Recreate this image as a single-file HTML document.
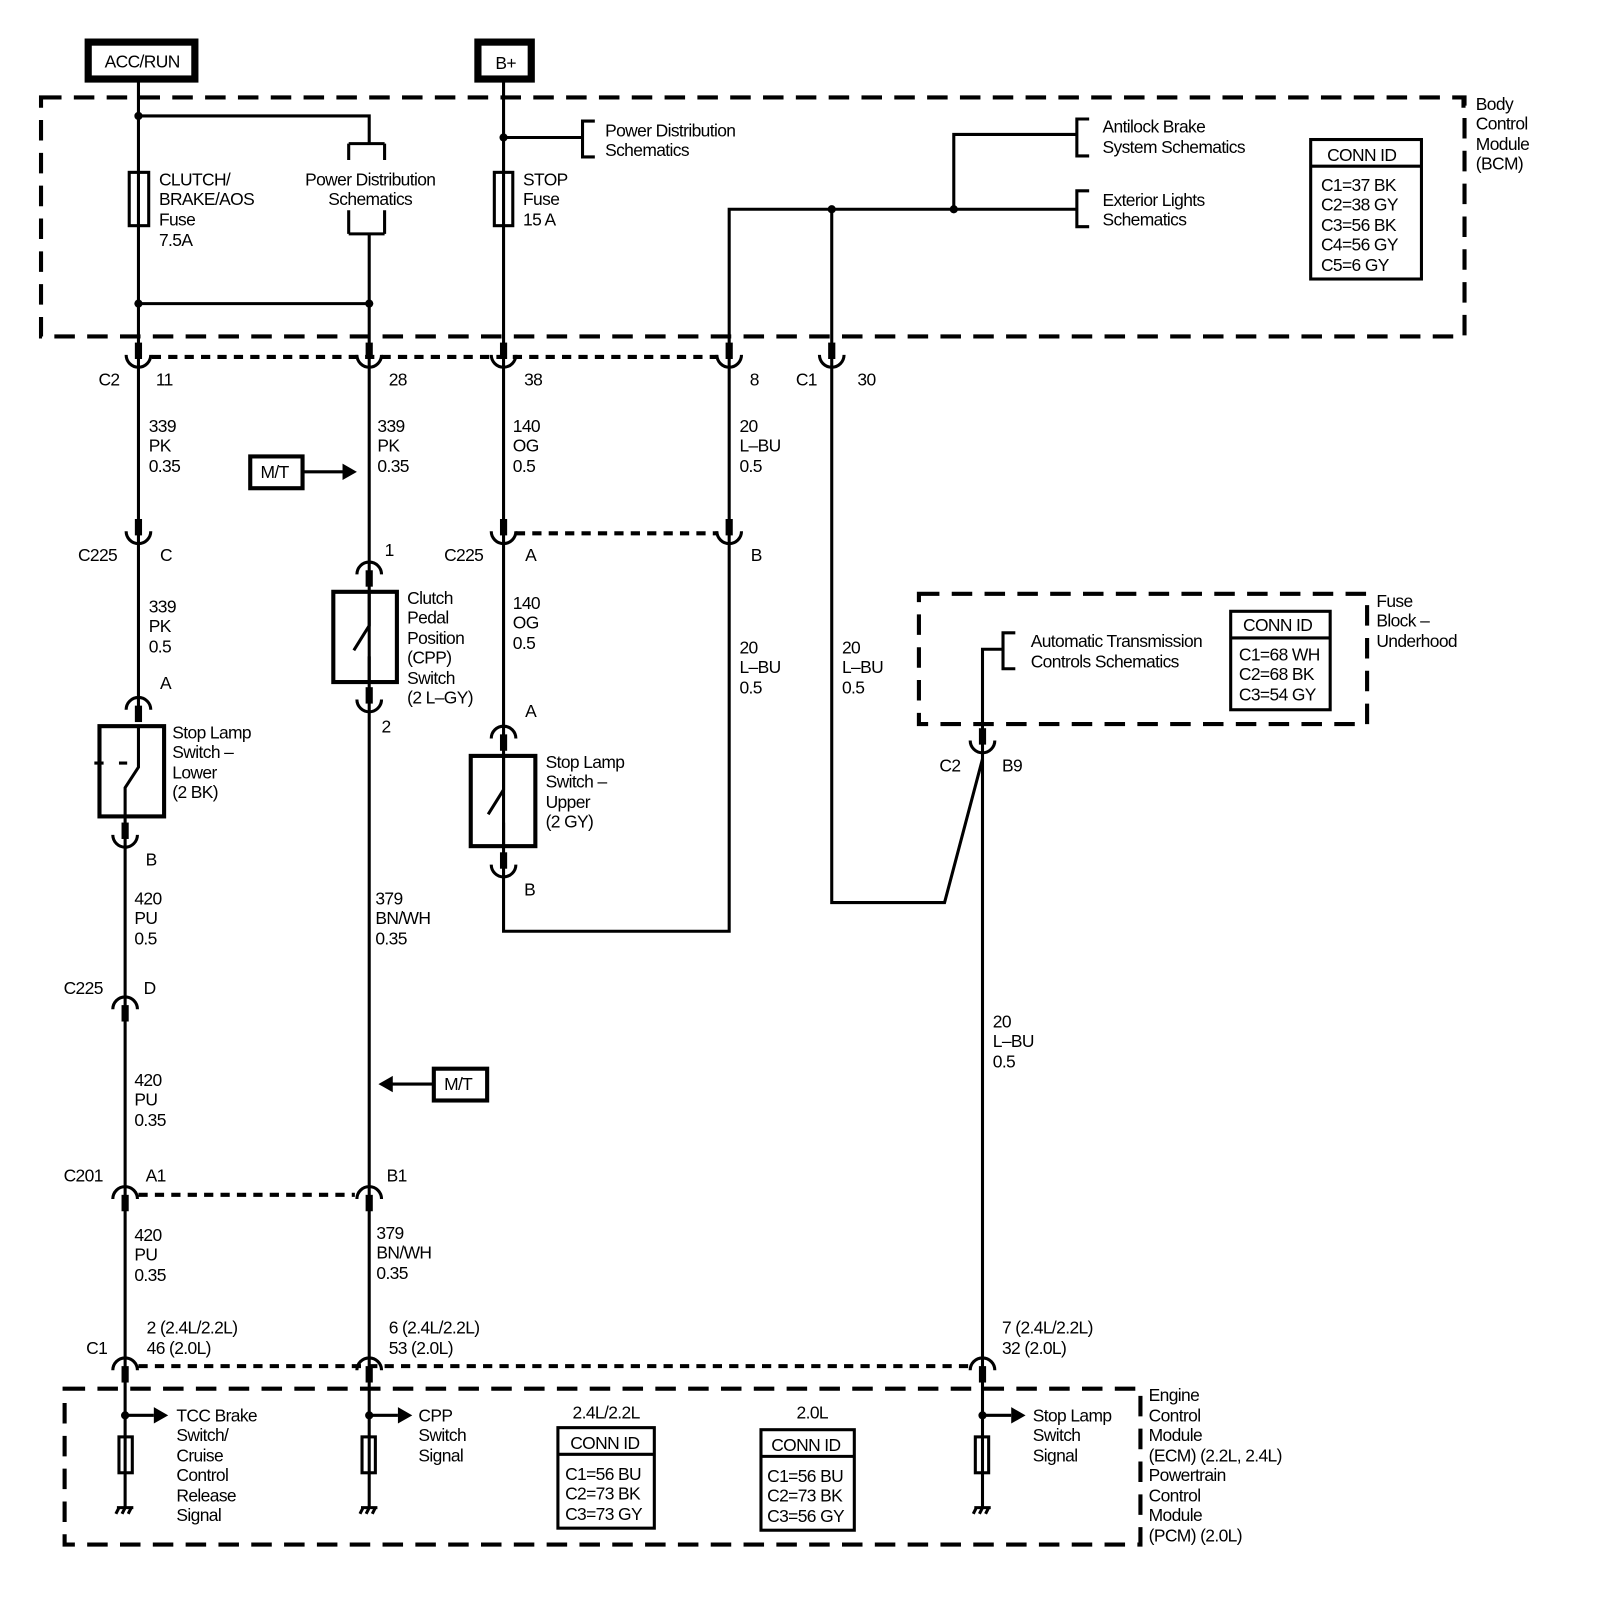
<!DOCTYPE html>
<html><head><style>
html,body{margin:0;padding:0;background:#fff;}
svg{display:block;}
text{font-family:"Liberation Sans",sans-serif;font-size:17px;fill:#000;letter-spacing:-0.6px;}
</style></head><body>
<svg width="1604" height="1600" viewBox="0 0 1564 1560" xmlns="http://www.w3.org/2000/svg">
<defs>
<g id="cf"><rect x="-3.5" y="-24" width="7" height="16"/><path d="M-12 -12 A12 12 0 0 0 12 -12" fill="none" stroke="#000" stroke-width="3"/></g>
<g id="cm"><rect x="-3.5" y="8" width="7" height="16"/><path d="M-12 12 A12 12 0 0 1 12 12" fill="none" stroke="#000" stroke-width="3"/></g>
<g id="gnd"><path d="M-8 0 H8 M-6 0 L-9 6 M0 0 L-3 6 M6 0 L3 6" stroke="#000" stroke-width="3" fill="none"/></g>
</defs>
<g fill="none" stroke="#000" stroke-width="3">
<!-- power boxes -->
<rect x="86" y="41" width="104" height="36" stroke-width="7"/>
<rect x="466" y="41" width="52" height="36" stroke-width="7"/>
<!-- BCM dashed -->
<rect x="40" y="95" width="1388" height="233" stroke-width="4" stroke-dasharray="20 12"/>
<!-- Fuse block dashed -->
<rect x="896" y="579" width="437" height="127" stroke-width="4" stroke-dasharray="20 12"/>
<!-- ECM dashed -->
<rect x="63" y="1354" width="1049" height="152" stroke-width="4" stroke-dasharray="20 12"/>
<!-- dotted connector links -->
<path d="M148 348 H700 M503 520 H700 M135 1165 H346 M135 1332 H946" stroke-dasharray="9 7" stroke-width="4"/>
<!-- wires -->
<path d="M135 80 V520 M135 520 V690 M122 796 V1340 M122 1340 V1470"/>
<path d="M135 113 H360 V140 M340 140 H375 M340 140 V156 M375 140 V156 M340 228 V205 M375 228 V205 M340 228 H375 M360 228 V560"/>
<path d="M135 296 H360"/>
<path d="M360 560 V1470"/>
<path d="M491 80 V908 H711 V204 H930 M811 204 V880 H921 L958 740"/>
<path d="M491 134 H568 M580 118 H568 V153 H580"/>
<path d="M930 204 V131 H1050 M1062 116 H1050 V152 H1062 M930 204 H1050 M1062 186 H1050 V221 H1062"/>
<path d="M958 706 V633 H978 M990 617 H978 V652 H990 M958 706 V1470"/>
<!-- fuses -->
<rect x="126" y="168" width="19" height="52"/>
<rect x="482" y="168" width="18" height="52"/>
<!-- CONN ID boxes -->
<rect x="1278" y="136" width="108" height="136"/><path d="M1278 162 H1386"/>
<rect x="1200" y="596" width="97" height="96"/><path d="M1200 622 H1297"/>
<rect x="544" y="1392" width="94" height="98"/><path d="M544 1418 H638"/>
<rect x="742" y="1394" width="91" height="98"/><path d="M742 1420 H833"/>
<!-- switches -->
<rect x="97" y="708" width="63" height="88" stroke-width="4"/>
<path d="M135 708 V748 L122 768 V796 M92 744 H101 M116 744 H124"/>
<rect x="325" y="577" width="62" height="88" stroke-width="4"/>
<path d="M360 577 V610 L345 634 M360 640 V665"/>
<rect x="459" y="737" width="63" height="88" stroke-width="4"/>
<path d="M491 737 V770 L476 794 M491 802 V825"/>
<!-- M/T -->
<rect x="244" y="445" width="51" height="31" stroke-width="4"/>
<path d="M295 460 H335"/>
<rect x="423" y="1042" width="52" height="31" stroke-width="4"/>
<path d="M423 1057 H382"/>
<!-- ECM inner -->
<path d="M122 1380 H150 M360 1380 H388 M958 1380 H986"/>
<rect x="116" y="1401" width="13" height="35"/>
<rect x="353" y="1401" width="13" height="35"/>
<rect x="951" y="1401" width="13" height="35"/>
</g>
<g fill="#000">
<path d="M348 460 L334 452 V468Z"/>
<path d="M369 1057 L383 1049 V1065Z"/>
<path d="M164 1380 L150 1372 V1388Z M402 1380 L388 1372 V1388Z M1000 1380 L986 1372 V1388Z"/>
<circle cx="135" cy="113" r="4"/><circle cx="135" cy="296" r="4"/><circle cx="360" cy="296" r="4"/>
<circle cx="491" cy="134" r="4"/><circle cx="811" cy="204" r="4"/><circle cx="930" cy="204" r="4"/>
<circle cx="122" cy="1380" r="4"/><circle cx="360" cy="1380" r="4"/><circle cx="958" cy="1380" r="4"/>
<rect x="1425" y="95" width="4" height="10"/>
<use href="#cf" x="135" y="358"/><use href="#cf" x="360" y="358"/><use href="#cf" x="491" y="358"/><use href="#cf" x="711" y="358"/><use href="#cf" x="811" y="358"/>
<use href="#cf" x="135" y="530"/><use href="#cf" x="491" y="530"/><use href="#cf" x="711" y="530"/>
<use href="#cm" x="360" y="548"/><use href="#cf" x="360" y="694"/>
<use href="#cm" x="135" y="680"/><use href="#cf" x="122" y="826"/>
<use href="#cm" x="491" y="708"/><use href="#cf" x="491" y="855"/>
<use href="#cm" x="122" y="972"/>
<use href="#cf" x="958" y="734"/>
<use href="#cm" x="122" y="1157"/><use href="#cm" x="360" y="1157"/>
<use href="#cm" x="122" y="1324"/><use href="#cm" x="360" y="1324"/><use href="#cm" x="958" y="1324"/>
<use href="#gnd" x="122" y="1470"/><use href="#gnd" x="360" y="1470"/><use href="#gnd" x="958" y="1470"/>
</g>
<text x="102" y="66">ACC/RUN</text>
<text x="483" y="67" font-size="16">B+</text>
<text x="155" y="181">CLUTCH/</text><text x="155" y="200">BRAKE/AOS</text><text x="155" y="220">Fuse</text><text x="155" y="240">7.5A</text>
<text x="361" y="181" text-anchor="middle">Power Distribution</text><text x="361" y="200" text-anchor="middle">Schematics</text>
<text x="510" y="181">STOP</text><text x="510" y="200">Fuse</text><text x="510" y="220">15 A</text>
<text x="590" y="133">Power Distribution</text><text x="590" y="152">Schematics</text>
<text x="1075" y="129">Antilock Brake</text><text x="1075" y="149">System Schematics</text>
<text x="1075" y="201">Exterior Lights</text><text x="1075" y="220">Schematics</text>
<text x="1294" y="157">CONN ID</text>
<text x="1288" y="186">C1=37 BK</text><text x="1288" y="205">C2=38 GY</text><text x="1288" y="225">C3=56 BK</text><text x="1288" y="244">C4=56 GY</text><text x="1288" y="264">C5=6 GY</text>
<text x="1439" y="107">Body</text><text x="1439" y="126">Control</text><text x="1439" y="146">Module</text><text x="1439" y="165">(BCM)</text>
<text x="96" y="376">C2</text><text x="152" y="376">11</text><text x="379" y="376">28</text><text x="511" y="376">38</text><text x="731" y="376">8</text><text x="776" y="376">C1</text><text x="836" y="376">30</text>
<text x="145" y="421">339</text><text x="145" y="440">PK</text><text x="145" y="460">0.35</text>
<text x="368" y="421">339</text><text x="368" y="440">PK</text><text x="368" y="460">0.35</text>
<text x="500" y="421">140</text><text x="500" y="440">OG</text><text x="500" y="460">0.5</text>
<text x="721" y="421">20</text><text x="721" y="440">L–BU</text><text x="721" y="460">0.5</text>
<text x="254" y="466">M/T</text>
<text x="76" y="547">C225</text><text x="156" y="547">C</text>
<text x="433" y="547">C225</text><text x="512" y="547">A</text><text x="732" y="547">B</text>
<text x="375" y="542">1</text>
<text x="145" y="597">339</text><text x="145" y="616">PK</text><text x="145" y="636">0.5</text>
<text x="500" y="594">140</text><text x="500" y="613">OG</text><text x="500" y="633">0.5</text>
<text x="721" y="637">20</text><text x="721" y="656">L–BU</text><text x="721" y="676">0.5</text>
<text x="821" y="637">20</text><text x="821" y="656">L–BU</text><text x="821" y="676">0.5</text>
<text x="397" y="589">Clutch</text><text x="397" y="608">Pedal</text><text x="397" y="628">Position</text><text x="397" y="647">(CPP)</text><text x="397" y="667">Switch</text><text x="397" y="686">(2 L–GY)</text>
<text x="156" y="672">A</text><text x="372" y="714">2</text>
<text x="168" y="720">Stop Lamp</text><text x="168" y="739">Switch –</text><text x="168" y="759">Lower</text><text x="168" y="778">(2 BK)</text>
<text x="512" y="699">A</text>
<text x="532" y="749">Stop Lamp</text><text x="532" y="768">Switch –</text><text x="532" y="788">Upper</text><text x="532" y="807">(2 GY)</text>
<text x="1342" y="592">Fuse</text><text x="1342" y="611">Block –</text><text x="1342" y="631">Underhood</text>
<text x="1005" y="631">Automatic Transmission</text><text x="1005" y="651">Controls Schematics</text>
<text x="1212" y="615">CONN ID</text>
<text x="1208" y="644">C1=68 WH</text><text x="1208" y="663">C2=68 BK</text><text x="1208" y="683">C3=54 GY</text>
<text x="916" y="752">C2</text><text x="977" y="752">B9</text>
<text x="142" y="844">B</text><text x="511" y="873">B</text>
<text x="131" y="882">420</text><text x="131" y="901">PU</text><text x="131" y="921">0.5</text>
<text x="366" y="882">379</text><text x="366" y="901">BN/WH</text><text x="366" y="921">0.35</text>
<text x="62" y="969">C225</text><text x="140" y="969">D</text>
<text x="968" y="1002">20</text><text x="968" y="1021">L–BU</text><text x="968" y="1041">0.5</text>
<text x="131" y="1059">420</text><text x="131" y="1078">PU</text><text x="131" y="1098">0.35</text>
<text x="433" y="1063">M/T</text>
<text x="62" y="1152">C201</text><text x="142" y="1152">A1</text><text x="377" y="1152">B1</text>
<text x="131" y="1210">420</text><text x="131" y="1229">PU</text><text x="131" y="1249">0.35</text>
<text x="367" y="1208">379</text><text x="367" y="1227">BN/WH</text><text x="367" y="1247">0.35</text>
<text x="143" y="1300">2 (2.4L/2.2L)</text><text x="143" y="1320">46 (2.0L)</text>
<text x="379" y="1300">6 (2.4L/2.2L)</text><text x="379" y="1320">53 (2.0L)</text>
<text x="977" y="1300">7 (2.4L/2.2L)</text><text x="977" y="1320">32 (2.0L)</text>
<text x="84" y="1320">C1</text>
<text x="172" y="1386">TCC Brake</text><text x="172" y="1405">Switch/</text><text x="172" y="1425">Cruise</text><text x="172" y="1444">Control</text><text x="172" y="1464">Release</text><text x="172" y="1483">Signal</text>
<text x="408" y="1386">CPP</text><text x="408" y="1405">Switch</text><text x="408" y="1425">Signal</text>
<text x="591" y="1383" text-anchor="middle">2.4L/2.2L</text>
<text x="792" y="1383" text-anchor="middle">2.0L</text>
<text x="556" y="1413">CONN ID</text>
<text x="551" y="1443">C1=56 BU</text><text x="551" y="1462">C2=73 BK</text><text x="551" y="1482">C3=73 GY</text>
<text x="752" y="1415">CONN ID</text>
<text x="748" y="1445">C1=56 BU</text><text x="748" y="1464">C2=73 BK</text><text x="748" y="1484">C3=56 GY</text>
<text x="1007" y="1386">Stop Lamp</text><text x="1007" y="1405">Switch</text><text x="1007" y="1425">Signal</text>
<text x="1120" y="1366">Engine</text><text x="1120" y="1386">Control</text><text x="1120" y="1405">Module</text><text x="1120" y="1425">(ECM) (2.2L, 2.4L)</text>
<text x="1120" y="1444">Powertrain</text><text x="1120" y="1464">Control</text><text x="1120" y="1483">Module</text><text x="1120" y="1503">(PCM) (2.0L)</text>
</svg>
</body></html>
